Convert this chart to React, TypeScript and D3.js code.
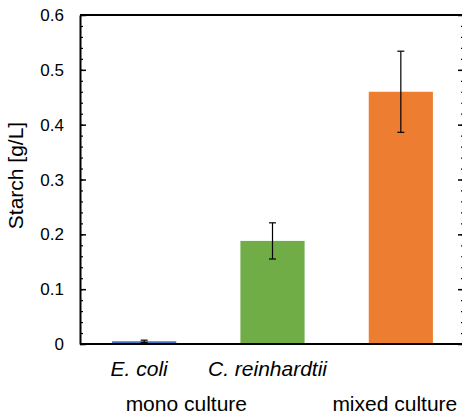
import React, { useEffect, useRef } from "react";
import * as d3 from "d3";

const categories = ["E. coli", "C. reinhardtii", "mixed"];
const values = [0.005, 0.188, 0.46];
const errors = [0.002, 0.033, 0.074];
const colors = ["#4472C4", "#70AD47", "#ED7D31"];
const speciesLabels = ["E. coli", "C. reinhardtii", ""];
const groupLabels = ["mono culture", "mixed culture"];
const yTicks = [0, 0.1, 0.2, 0.3, 0.4, 0.5, 0.6];

const W = 462;
const H = 414;
const FONT = "'Liberation Sans', Arial, sans-serif";

const App = () => {
  const ref = useRef<SVGSVGElement>(null);

  useEffect(() => {
    const svg = d3.select(ref.current);
    svg.selectAll("*").remove();

    const left = 80;
    const right = 465;
    const top = 15;
    const bottom = 344;

    const x = d3
      .scaleBand()
      .domain(categories)
      .range([left, right])
      .paddingInner(0.5)
      .paddingOuter(0.25);
    const y = d3.scaleLinear().domain([0, 0.6]).range([bottom, top]);
    const minor = d3.range(0, 0.6001, 0.02);

    // bars
    svg
      .selectAll(".bar")
      .data(values)
      .enter()
      .append("rect")
      .attr("x", (_, i) => x(categories[i])!)
      .attr("width", x.bandwidth())
      .attr("y", (d) => y(d))
      .attr("height", (d) => bottom - y(d))
      .attr("fill", (_, i) => colors[i]);

    // error bars
    const eb = svg.append("g").attr("stroke", "#000").attr("stroke-width", 1.2);
    values.forEach((v, i) => {
      const cx = x(categories[i])! + x.bandwidth() / 2;
      eb.append("line").attr("x1", cx).attr("x2", cx).attr("y1", y(v + errors[i])).attr("y2", y(v - errors[i]));
      [v + errors[i], v - errors[i]].forEach((e) => {
        eb.append("line").attr("x1", cx - 3.5).attr("x2", cx + 3.5).attr("y1", y(e)).attr("y2", y(e));
      });
    });

    // frame lines
    const frame = svg.append("g").attr("stroke", "#000").attr("stroke-width", 2);
    frame.append("line").attr("x1", left).attr("x2", W).attr("y1", top).attr("y2", top);
    frame.append("line").attr("x1", left).attr("x2", W).attr("y1", bottom).attr("y2", bottom);

    // left axis
    const gl = svg.append("g").attr("transform", `translate(${left},0)`);
    gl.call(d3.axisRight(y).tickValues(minor).tickSizeInner(3).tickSizeOuter(0).tickFormat(() => ""));
    gl.selectAll(".tick line").attr("stroke-width", 1.2);
    gl.select(".domain").attr("stroke-width", 2);
    const glMajor = svg.append("g").attr("transform", `translate(${left},0)`);
    glMajor.call(d3.axisRight(y).tickValues(yTicks).tickSize(6).tickFormat(() => ""));
    glMajor.select(".domain").remove();
    glMajor.selectAll(".tick line").attr("stroke-width", 1.5);

    // right axis (line falls just outside the picture, ticks visible)
    const rx = 464;
    const gr = svg.append("g").attr("transform", `translate(${rx},0)`);
    gr.call(d3.axisLeft(y).tickValues(minor).tickSize(3).tickFormat(() => ""));
    gr.select(".domain").remove();
    gr.selectAll(".tick line").attr("stroke-width", 1.2);
    const grMajor = svg.append("g").attr("transform", `translate(${rx},0)`);
    grMajor.call(d3.axisLeft(y).tickValues(yTicks).tickSize(6).tickFormat(() => ""));
    grMajor.select(".domain").remove();
    grMajor.selectAll(".tick line").attr("stroke-width", 1.5);

    // tick labels
    svg
      .append("g")
      .selectAll("text")
      .data(yTicks)
      .enter()
      .append("text")
      .attr("x", 64)
      .attr("y", (d) => y(d) + 6)
      .attr("text-anchor", "end")
      .attr("font-family", FONT)
      .attr("font-size", 17)
      .attr("fill", "#000")
      .text((d) => (d === 0 ? "0" : d3.format(".1f")(d)));

    // y label
    svg
      .append("text")
      .attr("transform", `translate(23,${(top + bottom) / 2 - 4}) rotate(-90)`)
      .attr("text-anchor", "middle")
      .attr("font-family", FONT)
      .attr("font-size", 21)
      .attr("fill", "#000")
      .text("Starch [g/L]");

    // species labels
    svg
      .append("g")
      .selectAll("text")
      .data(speciesLabels)
      .enter()
      .append("text")
      .attr("x", (_, i) => x(categories[i])! + x.bandwidth() / 2 - 5)
      .attr("y", 376)
      .attr("text-anchor", "middle")
      .attr("font-family", FONT)
      .attr("font-style", "italic")
      .attr("font-size", 21)
      .attr("fill", "#000")
      .text((d) => d);

    // group labels
    const c0 = x(categories[0])! + x.bandwidth() / 2;
    const c1 = x(categories[1])! + x.bandwidth() / 2;
    const c2 = x(categories[2])! + x.bandwidth() / 2;
    const gx = [(c0 + c1) / 2 - 22, c2 - 6];
    svg
      .append("g")
      .selectAll("text")
      .data(groupLabels)
      .enter()
      .append("text")
      .attr("x", (_, i) => gx[i])
      .attr("y", 411)
      .attr("text-anchor", "middle")
      .attr("font-family", FONT)
      .attr("font-size", 21)
      .attr("fill", "#000")
      .text((d) => d);
  }, []);

  return (
    <svg
      ref={ref}
      width={W}
      height={H}
      style={{ position: "absolute", left: 0, top: 0, background: "#fff" }}
    />
  );
};

export default App;
